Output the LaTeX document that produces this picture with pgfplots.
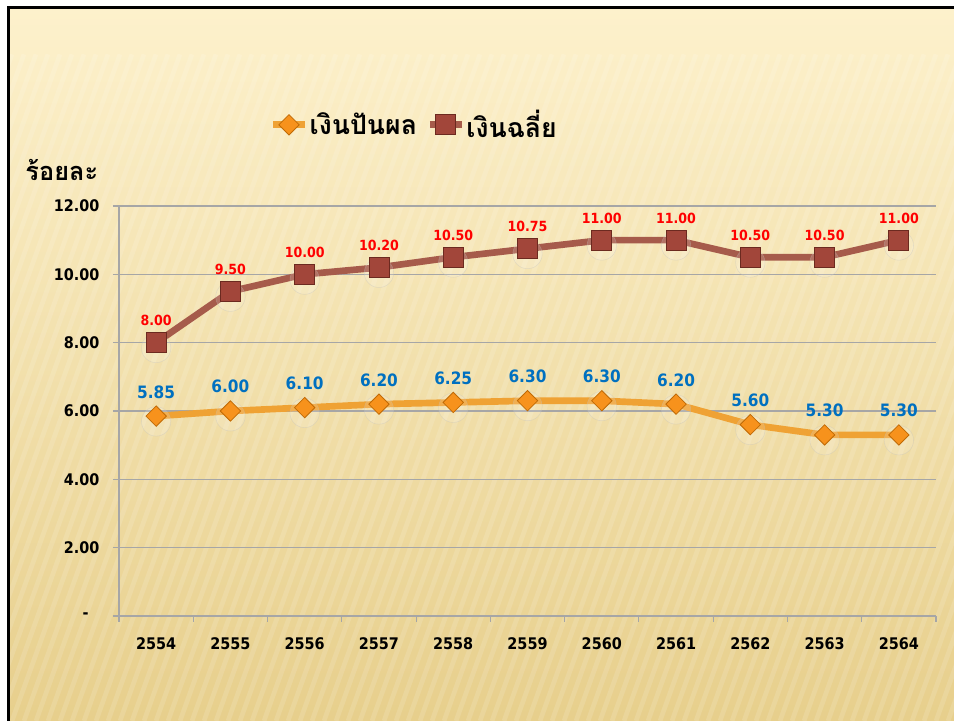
\documentclass[border=0pt]{standalone}
\usepackage{fontspec}
\setmainfont{DejaVu Sans Condensed}
\newfontfamily\thaifont[Script=Thai]{Loma}
\usepackage{pgfplots}
\pgfplotsset{compat=1.18}
\definecolor{bgtop}{HTML}{FDF1CC}
\definecolor{bgmid}{HTML}{F5E4AE}
\definecolor{bgbot}{HTML}{E7CF8C}
\definecolor{divline}{HTML}{EFA234}
\definecolor{divmark}{HTML}{F7921C}
\definecolor{divedge}{HTML}{C06A05}
\definecolor{avgline}{HTML}{A65B4B}
\definecolor{avgmark}{HTML}{A2463A}
\definecolor{avgedge}{HTML}{6C2A20}
\definecolor{lblblue}{HTML}{0070C0}
\definecolor{gridgray}{HTML}{A6A6A6}

\begin{document}
\begin{tikzpicture}
\useasboundingbox (0,0) rectangle (715.5pt,540.75pt);
\shade[top color=bgtop, middle color=bgmid, bottom color=bgbot] (6pt,0) rectangle (715.5pt,534.75pt);
% faint diagonal stripes of the backdrop
\begin{scope}
\clip (6pt,0) rectangle (715.5pt,500pt);
\foreach \i in {-22,...,80} {
  \draw[white, opacity=0.13, line width=3.5pt] (\i*9pt,0) -- ++(180pt,500pt);
}
\end{scope}
\draw[line width=2.25pt] (6pt,0) -- (6pt,534.75pt) -- (716pt,534.75pt);
\begin{axis}[at={(89.25pt,78.75pt)}, anchor=south west, scale only axis,
 width=612.75pt, height=307.5pt, xmin=-0.5, xmax=10.5, ymin=0, ymax=12,
 axis x line=bottom, axis y line=left, axis line style={-, gridgray, line width=0.8pt},
 xtick={-0.5,0.5,...,10.5}, xticklabels={},
 extra x ticks={0,...,10},
 extra x tick labels={2554,2555,2556,2557,2558,2559,2560,2561,2562,2563,2564},
 extra x tick style={major tick length=0pt, xticklabel style={anchor=north, yshift=-15.75pt}},
 ytick={0,2,...,12}, yticklabels={\makebox[12.5pt][l]{-},2.00,4.00,6.00,8.00,10.00,12.00},
 tick align=outside, major tick length=4.5pt,
 tick style={gridgray, line width=0.8pt},
 ymajorgrids, grid style={gridgray, line width=0.8pt},
 tick label style={font=\fontsize{12}{14}\selectfont\bfseries, inner sep=0pt},
 yticklabel style={anchor=east, xshift=-10pt},
 legend style={at={(0.361,1.198)}, anchor=center, draw=none, fill=none,
   font=\thaifont\fontsize{20}{24}\selectfont\bfseries, legend columns=2,
   column sep=0pt, inner sep=0pt, nodes={inner xsep=1pt},
   /tikz/every even column/.append style={column sep=6pt}},
 legend image code/.code={
   \draw[mark repeat=2, mark phase=2, #1] plot coordinates {(0pt,0pt) (12pt,0pt) (24pt,0pt)};},
 legend cell align=left,
 clip=false]
% halos under markers
\addplot[only marks, mark=*, mark size=11pt, mark options={fill=white, fill opacity=0.15, draw=gray!50, draw opacity=0.35, yshift=-4pt}, forget plot]
 coordinates {(0,5.85)(1,6.00)(2,6.10)(3,6.20)(4,6.25)(5,6.30)(6,6.30)(7,6.20)(8,5.60)(9,5.30)(10,5.30)};
\addplot[only marks, mark=*, mark size=11pt, mark options={fill=white, fill opacity=0.15, draw=gray!50, draw opacity=0.35, yshift=-4pt}, forget plot]
 coordinates {(0,8.00)(1,9.50)(2,10.00)(3,10.20)(4,10.50)(5,10.75)(6,11.00)(7,11.00)(8,10.50)(9,10.50)(10,11.00)};
% dividend
\addplot[divline, line width=5pt, mark=square*, mark size=5.4pt,
 mark options={rotate=45, fill=divmark, draw=divedge, line width=0.6pt},
 nodes near coords, point meta=explicit symbolic,
 every node near coord/.append style={anchor=base, yshift=13.5pt, inner sep=0pt, text=lblblue, font=\fontsize{12.8}{15}\selectfont\bfseries}]
 coordinates {(0,5.85)[5.85] (1,6.00)[6.00] (2,6.10)[6.10] (3,6.20)[6.20] (4,6.25)[6.25] (5,6.30)[6.30] (6,6.30)[6.30] (7,6.20)[6.20] (8,5.60)[5.60] (9,5.30)[5.30] (10,5.30)[5.30]};
\addlegendentry{เงินปันผล}
% average refund
\addplot[avgline, line width=5pt, mark=square*, mark size=7.5pt,
 mark options={fill=avgmark, draw=avgedge, line width=0.6pt},
 nodes near coords, point meta=explicit symbolic,
 every node near coord/.append style={anchor=base, yshift=12.75pt, inner sep=0pt, text=red, font=\fontsize{10.5}{12}\selectfont\bfseries}]
 coordinates {(0,8.00)[8.00] (1,9.50)[9.50] (2,10.00)[10.00] (3,10.20)[10.20] (4,10.50)[10.50] (5,10.75)[10.75] (6,11.00)[11.00] (7,11.00)[11.00] (8,10.50)[10.50] (9,10.50)[10.50] (10,11.00)[11.00]};
\addlegendentry{เงินฉลี่ย}
\node[font=\thaifont\fontsize{19}{22}\selectfont\bfseries] at (rel axis cs:-0.07,1.088) {ร้อยละ};
\end{axis}
\end{tikzpicture}
\end{document}
